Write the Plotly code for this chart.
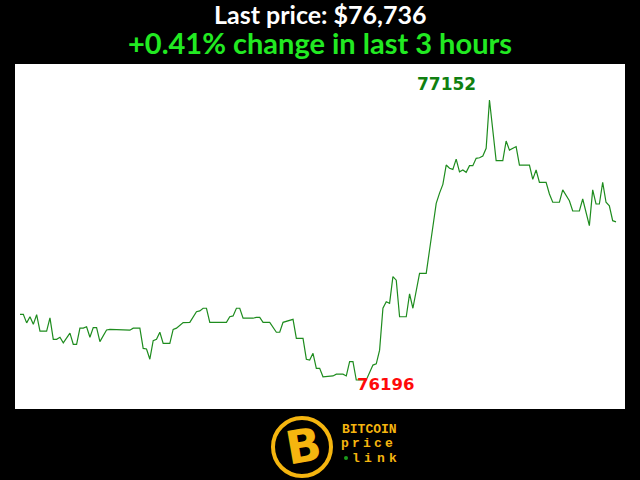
import plotly.graph_objects as go

# minutes since start of the 3-hour window (vertices)
minutes = [0,1,2,3,4,5,6,8,9,10,11,12,13,15,16,17,18,19,20,21,22,23,24,26,27,33,34,36,37,38,39,40,41,42,43,45,46,47,49,51,53,54,55,56,57,62,63,64,65,66,67,70,71,72,73,75,77,78,79,81,82,83,85,86,87,88,89,90,91,94,95,97,98,99,100,101,104,106,107,108,109,110,111,112,113,114,116,117,118,120,122,123,125,126,127,128,129,130,131,132,133,134,135,136,137,138,139,140,141,143,145,146,147,149,150,153,154,155,156,158,159,160,162,163,164,165,166,168,169,170,171,172,173,174,175,176,177,178,179]
prices = [76420,76420,76391,76412,76386,76419,76363,76363,76408,76335,76335,76342,76323,76356,76318,76318,76373,76373,76378,76342,76375,76375,76327,76367,76369,76366,76373,76373,76304,76302,76267,76330,76335,76359,76321,76321,76369,76373,76392,76393,76429,76432,76441,76441,76393,76393,76412,76415,76441,76441,76407,76407,76410,76410,76393,76393,76359,76359,76393,76401,76403,76338,76338,76267,76264,76287,76236,76236,76207,76210,76216,76216,76210,76259,76259,76196,76196,76247,76251,76298,76441,76463,76458,76549,76537,76412,76412,76490,76441,76560,76560,76640,76799,76834,76864,76930,76919,76915,76950,76907,76913,76905,76928,76928,76953,76955,76961,76987,77152,76945,76945,77012,76981,76993,76930,76930,76881,76913,76871,76871,76831,76803,76803,76845,76828,76808,76773,76773,76814,76765,76723,76845,76797,76797,76871,76803,76791,76740,76736]

title_line1 = "Last price: $76,736"
title_line2 = "+0.41% change in last 3 hours"
max_label = "77152"
min_label = "76196"
logo_lines = ["BITCOIN", "price", "link"]

GOLD = "#F5B50F"

fig = go.Figure()
fig.add_trace(go.Scatter(x=minutes, y=prices, mode="lines",
                         line=dict(color="#1E8C1E", width=1.2),
                         hoverinfo="skip", showlegend=False))

annotations = [
    dict(text=f"<b>{title_line1}</b>", xref="paper", yref="paper", x=0.5, y=(409 - 14.5) / 345,
         xanchor="center", yanchor="middle", showarrow=False,
         font=dict(family="Lato", size=25, color="white")),
    dict(text=f"<b>{title_line2}</b>", xref="paper", yref="paper", x=0.5, y=(409 - 43) / 345,
         xanchor="center", yanchor="middle", showarrow=False,
         font=dict(family="Lato", size=29, color="#22EA22")),
    dict(text=f"<b>{max_label}</b>", xref="x", yref="y", x=128, y=77207,
         xanchor="center", yanchor="middle", showarrow=False,
         font=dict(family="DejaVu Sans", size=17, color="#108010")),
    dict(text=f"<b>{min_label}</b>", xref="x", yref="y", x=100.5, y=76182,
         xanchor="left", yanchor="middle", showarrow=False,
         font=dict(family="DejaVu Sans", size=16.5, color="#FF0A0A")),
    # logo "B"
    dict(text="<b>B</b>", xref="paper", yref="paper", x=(303 - 15) / 610, y=(409 - 446) / 345,
         xanchor="center", yanchor="middle", showarrow=False, textangle=-10,
         font=dict(family="DejaVu Sans", size=46, color=GOLD)),
    dict(text=f"<b>{logo_lines[0]}</b>", xref="paper", yref="paper", x=(369 - 15) / 610,
         y=(409 - 429) / 345, xanchor="center", yanchor="middle", showarrow=False,
         font=dict(family="Liberation Mono", size=13, color=GOLD)),
]

# spaced letters of "price" and "link"
for word, y_px, x_start, pitch in [(logo_lines[1], 443, 345, 11), (logo_lines[2], 458, 356, 12.3)]:
    for i, ch in enumerate(word):
        annotations.append(dict(text=f"<b>{ch}</b>", xref="paper", yref="paper",
                                x=(x_start + i * pitch - 15) / 610, y=(409 - y_px) / 345,
                                xanchor="center", yanchor="middle", showarrow=False,
                                font=dict(family="Liberation Mono", size=13, color=GOLD)))

shapes = [
    dict(type="circle", xref="paper", yref="paper",
         x0=(302 - 29 - 15) / 610, x1=(302 + 29 - 15) / 610,
         y0=(409 - 476) / 345, y1=(409 - 418) / 345,
         line=dict(color=GOLD, width=4), fillcolor="black", layer="below"),
    dict(type="circle", xref="paper", yref="paper",
         x0=(344 - 15) / 610, x1=(348 - 15) / 610,
         y0=(409 - 460) / 345, y1=(409 - 456) / 345,
         line=dict(color="#1C9C1C", width=0), fillcolor="#1C9C1C"),
]

fig.update_layout(
    width=640, height=480,
    margin=dict(l=15, r=15, t=64, b=71),
    paper_bgcolor="black", plot_bgcolor="white",
    xaxis=dict(range=[-1.5, 181.7], visible=False, fixedrange=True),
    yaxis=dict(range=[76097, 77275], visible=False, fixedrange=True),
    annotations=annotations, shapes=shapes, showlegend=False,
)

fig.write_html("out.html", config={"displayModeBar": False},
               post_script="document.body.style.margin='0';document.body.style.background='black';document.body.style.overflow='hidden';")
